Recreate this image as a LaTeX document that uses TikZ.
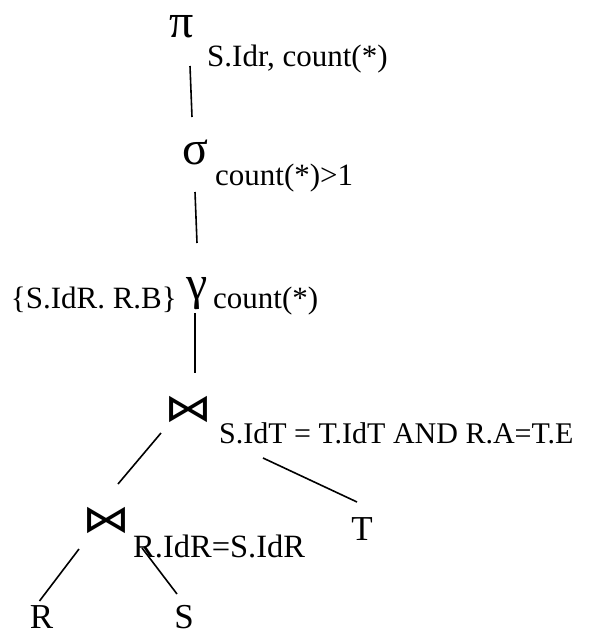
\documentclass[tikz,border=0pt]{standalone}
\usepackage{fontspec}
\setmainfont{Liberation Serif}
\newfontfamily\symfont{DejaVu Sans}
\begin{document}
\begin{tikzpicture}[x=1pt,y=-1pt,
  lbl/.style={anchor=base west,inner sep=0pt,font=\fontsize{31}{31}\selectfont},
  leaf/.style={anchor=center,inner sep=0pt,font=\fontsize{35}{35}\selectfont},
  op/.style={anchor=center,inner sep=0pt,font=\fontsize{48}{48}\selectfont},
  joinop/.style={anchor=center,inner sep=0pt,yscale=0.8,font=\symfont\fontsize{48}{48}\selectfont},
  edge/.style={line width=1.6pt}]
\useasboundingbox (0,0) rectangle (609,637);

% operators
\node[op] (pi) at (182,27) {π};
\node[lbl] (pilbl) at (207,66) {S.Idr, count(*)};
\node[op] (sigma) at (195,152.5) {σ};
\node[lbl] (sigmalbl) at (215,185) {count(*)>1};
\node[op] (gamma) at (197,293.5) {γ};
\node[lbl,anchor=base east] (gammagrp) at (177,308) {\{S.IdR. R.B\}};
\node[lbl] (gammaagg) at (213,308) {count(*)};
\node[joinop] (joinA) at (188,409) {⋈};
\node[lbl,font=\fontsize{30}{30}\selectfont] (joinAlbl) at (219,443) {S.IdT = T.IdT AND R.A=T.E};
\node[joinop] (joinB) at (106,520) {⋈};
\node[lbl,font=\fontsize{32.5}{32.5}\selectfont] (joinBlbl) at (133,557) {R.IdR=S.IdR};

% relations
\node[leaf] (T) at (362,529.5) {T};
\node[leaf] (R) at (41.5,617) {R};
\node[leaf] (S) at (184,617) {S};

% tree edges
\draw[edge] ([shift={(8,39)}]pi.center) -- ([shift={(-3,-35.5)}]sigma.center);
\draw[edge] ([shift={(0,39.5)}]sigma.center) -- ([shift={(0,-50.5)}]gamma.center);
\draw[edge] ([shift={(-2,19.5)}]gamma.center) -- ([shift={(7,-36)}]joinA.center);
\draw[edge] ([shift={(-27,24)}]joinA.center) -- ([shift={(12,-36)}]joinB.center);
\draw[edge] ([shift={(75,49)}]joinA.center) -- ([shift={(-5,-27.5)}]T.center);
\draw[edge] ([shift={(-27,29)}]joinB.center) -- ([shift={(-2,-16)}]R.center);
\draw[edge] ([shift={(36,28)}]joinB.center) -- ([shift={(-7,-23)}]S.center);
\end{tikzpicture}
\end{document}
